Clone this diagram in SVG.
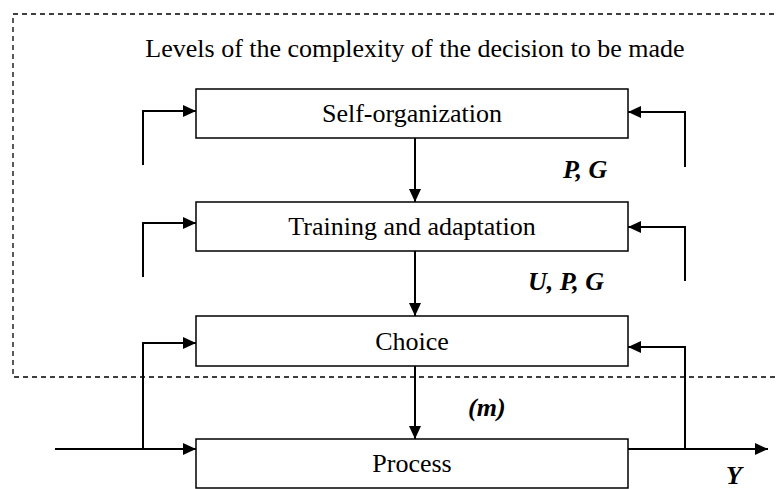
<svg xmlns="http://www.w3.org/2000/svg" width="776" height="489" viewBox="0 0 776 489">
<style>
.box{fill:#fff;stroke:#000;stroke-width:1.5}
.ln{fill:none;stroke:#000;stroke-width:2}
.t{font-family:"Liberation Serif","Times New Roman",serif;font-size:26px;fill:#000;text-anchor:middle}
.bi{font-family:"Liberation Serif","Times New Roman",serif;font-size:26px;font-weight:bold;font-style:italic;fill:#000}
</style>
<defs>
<marker id="ah" markerWidth="13" markerHeight="12" viewBox="0 0 13 12" refX="13" refY="6" orient="auto" markerUnits="userSpaceOnUse">
<path d="M0,0 L13,6 L0,12 z" fill="#000"/>
</marker>
</defs>
<rect x="13" y="14" width="780" height="363" fill="none" stroke="#000" stroke-width="1.3" stroke-dasharray="5,4"/>
<text class="t" x="415" y="57">Levels of the complexity of the decision to be made</text>
<g id="connectors">
<polyline class="ln" points="143,165 143,111 196,111" marker-end="url(#ah)"/>
<polyline class="ln" points="685,167 685,112 628,112" marker-end="url(#ah)"/>
<polyline class="ln" points="143,277 143,223 196,223" marker-end="url(#ah)"/>
<polyline class="ln" points="685,281 685,227 628,227" marker-end="url(#ah)"/>
<line class="ln" x1="415" y1="138" x2="415" y2="202" marker-end="url(#ah)"/>
<line class="ln" x1="415" y1="251" x2="415" y2="316" marker-end="url(#ah)"/>
<line class="ln" x1="415" y1="366" x2="415" y2="439" marker-end="url(#ah)"/>
<line class="ln" x1="55" y1="449" x2="196" y2="449" marker-end="url(#ah)"/>
<polyline class="ln" points="143,449 143,343 196,343" marker-end="url(#ah)"/>
<line class="ln" x1="628" y1="449" x2="768" y2="449" marker-end="url(#ah)"/>
<polyline class="ln" points="685,449 685,347 628,347" marker-end="url(#ah)"/>
</g>
<g id="self-organization">
<rect class="box" x="196" y="89" width="432" height="49"/>
<text class="t" x="412" y="122">Self-organization</text>
</g>
<g id="training">
<rect class="box" x="196" y="202" width="432" height="49"/>
<text class="t" x="412" y="235">Training and adaptation</text>
</g>
<g id="choice">
<rect class="box" x="196" y="316" width="432" height="50"/>
<text class="t" x="412" y="350">Choice</text>
</g>
<g id="process">
<rect class="box" x="196" y="439" width="432" height="49"/>
<text class="t" x="412" y="472">Process</text>
</g>
<text class="bi" x="563" y="178">P, G</text>
<text class="bi" x="528" y="290">U, P, G</text>
<text class="bi" x="468" y="416">(m)</text>
<text class="bi" x="726" y="484">Y</text>
</svg>
